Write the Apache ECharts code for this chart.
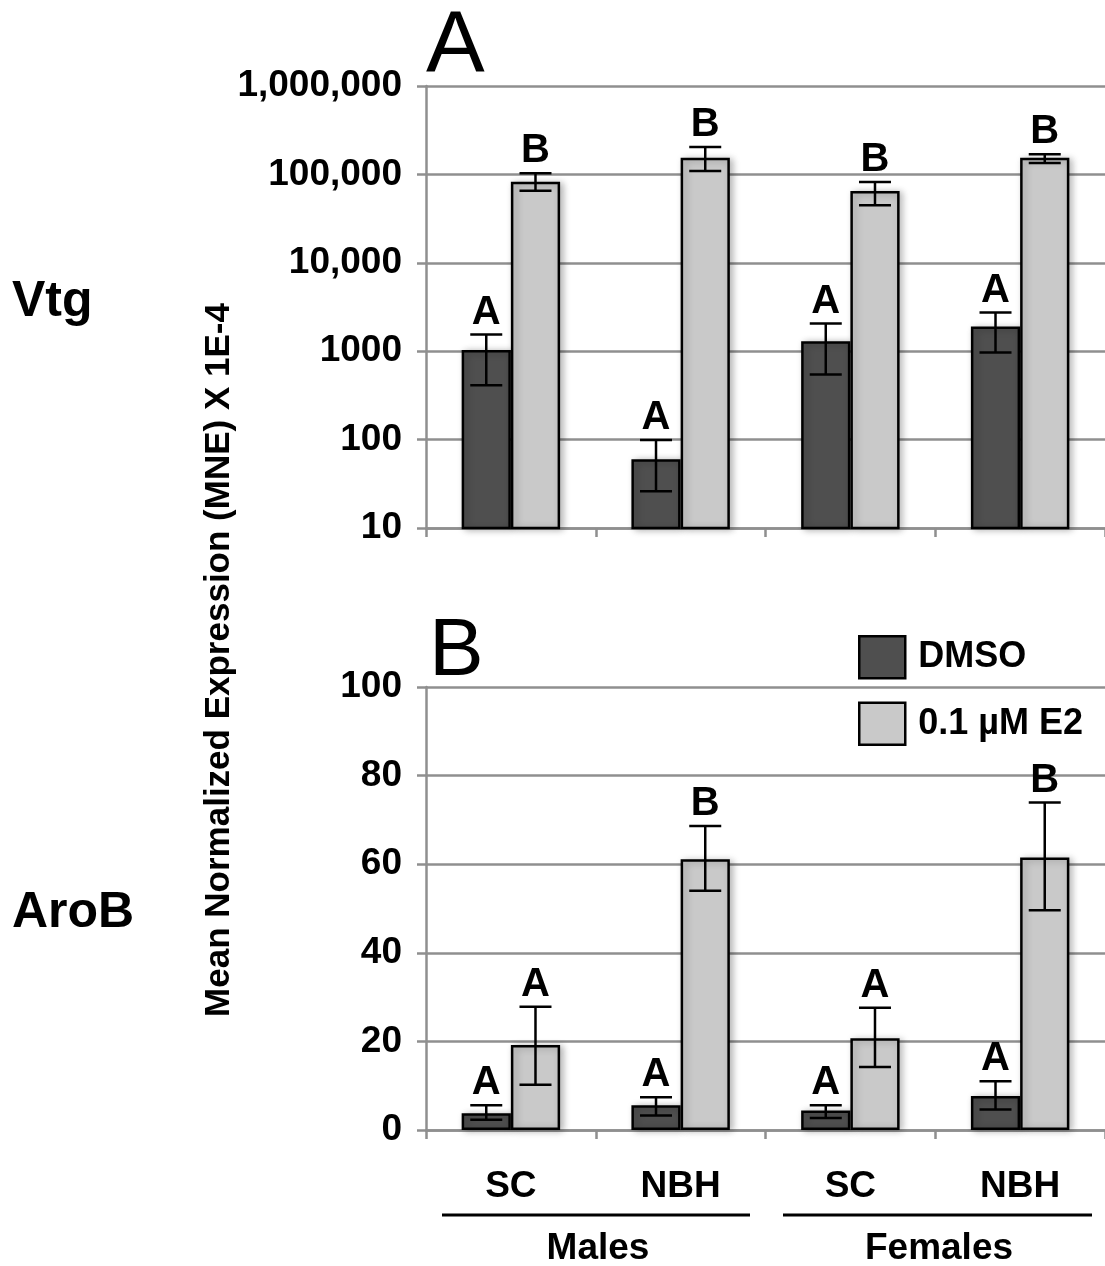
<!DOCTYPE html>
<html>
<head>
<meta charset="utf-8">
<script src="https://cdn.jsdelivr.net/npm/echarts@6/dist/echarts.min.js"></script>
<style>
html,body{margin:0;padding:0;background:#fff;}
#chart{width:1105px;height:1266px;}
</style>
</head>
<body>
<div id="chart"></div>
<script>
// ---------- DATA ----------
const categories = ['SC', 'NBH', 'SC', 'NBH'];
const groups = ['Males', 'Females'];
const seriesNames = ['DMSO', '0.1 µM E2'];

// Panel A: Vtg (log scale)
const vtgDMSO = [1030, 60, 1300, 1900];
const vtgDMSOLow = [412, 26, 545, 967];
const vtgDMSOHigh = [1545, 99, 2056, 2740];
const vtgE2 = [82600, 154500, 64900, 154500];
const vtgE2Low = [65500, 109000, 44700, 134500];
const vtgE2High = [102900, 204000, 82000, 168800];
const vtgDMSOLetters = ['A', 'A', 'A', 'A'];
const vtgE2Letters = ['B', 'B', 'B', 'B'];
const vtgTickValues = [10, 100, 1000, 10000, 100000, 1000000];
const vtgTickLabels = ['10', '100', '1000', '10,000', '100,000', '1,000,000'];

// Panel B: AroB (linear)
const aroDMSO = [3.8, 5.6, 4.4, 7.7];
const aroDMSOLow = [2.3, 3.3, 2.7, 4.6];
const aroDMSOHigh = [5.6, 7.4, 5.6, 11.0];
const aroE2 = [19.2, 61.1, 20.7, 61.5];
const aroE2Low = [10.2, 54.0, 14.2, 49.6];
const aroE2High = [27.8, 68.6, 27.6, 73.9];
const aroDMSOLetters = ['A', 'A', 'A', 'A'];
const aroE2Letters = ['A', 'B', 'A', 'B'];
const aroTickValues = [0, 20, 40, 60, 80, 100];

// ---------- STYLE ----------
const FONT = '"Liberation Sans", Arial, Helvetica, sans-serif';
const DARK = '#4f4f4f';
const LIGHT = '#c9c9c9';
const GRIDC = '#8f8f8f';
const CAT_GAP = 0.42;

const chart = echarts.init(document.getElementById('chart'), null, {renderer: 'canvas'});

function barSeries(name, data, color, xi, yi) {
  return {
    type: 'bar', name: name, data: data, xAxisIndex: xi, yAxisIndex: yi,
    barGap: '0%', barCategoryGap: (CAT_GAP * 100) + '%', clip: true,
    itemStyle: {color: color, borderColor: '#000', borderWidth: 2.5,
      shadowColor: 'rgba(0,0,0,0.28)', shadowBlur: 7, shadowOffsetX: 3, shadowOffsetY: 1},
    emphasis: {disabled: true}, z: 2
  };
}

function errSeries(name, lows, highs, letters, sign, xi, yi) {
  const data = lows.map((lo, i) => [i, lo, highs[i]]);
  return {
    type: 'custom', name: name, xAxisIndex: xi, yAxisIndex: yi, z: 5,
    data: data, encode: {x: 0, y: [1, 2]}, silent: true,
    renderItem: function (params, api) {
      const x = api.value(0), lo = api.value(1), hi = api.value(2);
      const pLo = api.coord([x, lo]);
      const pHi = api.coord([x, hi]);
      const band = api.coord([1, hi])[0] - api.coord([0, hi])[0];
      const bw = band * (1 - CAT_GAP) / 2;
      const cx = pLo[0] + sign * bw / 2;
      const cap = 16;
      const st = {stroke: '#000', lineWidth: 2.5};
      return {
        type: 'group',
        children: [
          {type: 'line', shape: {x1: cx, y1: pLo[1], x2: cx, y2: pHi[1]}, style: st},
          {type: 'line', shape: {x1: cx - cap, y1: pLo[1], x2: cx + cap, y2: pLo[1]}, style: st},
          {type: 'line', shape: {x1: cx - cap, y1: pHi[1], x2: cx + cap, y2: pHi[1]}, style: st},
          {type: 'text', style: {text: letters[params.dataIndex], x: cx, y: pHi[1] - 2,
            align: 'center', verticalAlign: 'bottom', fill: '#000',
            font: 'bold 40px ' + FONT}}
        ]
      };
    }
  };
}

const axisLineStyle = {color: GRIDC, width: 2.5};
const labelStyle = {color: '#000', fontFamily: FONT, fontWeight: 'bold', fontSize: 37};

const option = {
  backgroundColor: '#fff',
  animation: false,
  grid: [
    {left: 426, top: 86, right: 0, height: 442},
    {left: 426, top: 687, right: 0, height: 443}
  ],
  xAxis: [
    {type: 'category', gridIndex: 0, data: categories,
      axisLine: {lineStyle: axisLineStyle}, axisTick: {show: true, length: 9, lineStyle: axisLineStyle},
      axisLabel: {show: false}},
    {type: 'category', gridIndex: 1, data: categories,
      axisLine: {lineStyle: axisLineStyle}, axisTick: {show: true, length: 9, lineStyle: axisLineStyle},
      axisLabel: Object.assign({margin: 38}, labelStyle)}
  ],
  yAxis: [
    {type: 'log', logBase: 10, gridIndex: 0, min: vtgTickValues[0], max: vtgTickValues[vtgTickValues.length - 1],
      axisLine: {show: true, lineStyle: axisLineStyle},
      axisTick: {show: true, length: 9, lineStyle: axisLineStyle},
      splitLine: {show: true, lineStyle: {color: GRIDC, width: 2.5}},
      minorTick: {show: false}, minorSplitLine: {show: false},
      axisLabel: Object.assign({margin: 24, formatter: function (v) {
        let best = 0;
        for (let i = 0; i < vtgTickValues.length; i++) {
          if (Math.abs(Math.log10(vtgTickValues[i]) - Math.log10(v)) < Math.abs(Math.log10(vtgTickValues[best]) - Math.log10(v))) best = i;
        }
        return vtgTickLabels[best];
      }}, labelStyle)},
    {type: 'value', gridIndex: 1, min: aroTickValues[0], max: aroTickValues[aroTickValues.length - 1], interval: 20,
      axisLine: {show: true, lineStyle: axisLineStyle},
      axisTick: {show: true, length: 9, lineStyle: axisLineStyle},
      splitLine: {show: true, lineStyle: {color: GRIDC, width: 2.5}},
      axisLabel: Object.assign({margin: 24}, labelStyle)}
  ],
  legend: {
    data: seriesNames, orient: 'vertical', left: 853, top: 630,
    itemWidth: 46, itemHeight: 42, itemGap: 22, icon: 'rect',
    itemStyle: {borderColor: '#000', borderWidth: 2.5, shadowBlur: 0, shadowOffsetX: 0, shadowOffsetY: 0},
    textStyle: {color: '#000', fontFamily: FONT, fontWeight: 'bold', fontSize: 36, padding: [0, 0, 0, 8]},
    selectedMode: false
  },
  series: [
    barSeries(seriesNames[0], vtgDMSO, DARK, 0, 0),
    barSeries(seriesNames[1], vtgE2, LIGHT, 0, 0),
    errSeries('errA1', vtgDMSOLow, vtgDMSOHigh, vtgDMSOLetters, -1, 0, 0),
    errSeries('errA2', vtgE2Low, vtgE2High, vtgE2Letters, 1, 0, 0),
    barSeries(seriesNames[0], aroDMSO, DARK, 1, 1),
    barSeries(seriesNames[1], aroE2, LIGHT, 1, 1),
    errSeries('errB1', aroDMSOLow, aroDMSOHigh, aroDMSOLetters, -1, 1, 1),
    errSeries('errB2', aroE2Low, aroE2High, aroE2Letters, 1, 1, 1)
  ],
  graphic: [
    {type: 'text', left: 426, top: 4, style: {text: 'A', font: '88px ' + FONT, fill: '#000'}},
    {type: 'text', left: 429, top: 611, style: {text: 'B', font: '82px ' + FONT, fill: '#000'}},
    {type: 'text', x: 12, y: 302, style: {text: 'Vtg', font: 'bold 50px ' + FONT, fill: '#000', verticalAlign: 'middle'}},
    {type: 'text', x: 12, y: 913, style: {text: 'AroB', font: 'bold 50px ' + FONT, fill: '#000', verticalAlign: 'middle'}},
    {type: 'text', x: 219, y: 660, rotation: Math.PI / 2,
      style: {text: 'Mean Normalized Expression (MNE) X 1E-4', font: 'bold 35px ' + FONT, fill: '#000', align: 'center', verticalAlign: 'middle'}},
    {type: 'line', shape: {x1: 442, y1: 1215, x2: 750, y2: 1215}, style: {stroke: '#000', lineWidth: 3}},
    {type: 'line', shape: {x1: 783, y1: 1215, x2: 1092, y2: 1215}, style: {stroke: '#000', lineWidth: 3}},
    {type: 'text', x: 598, y: 1249, style: {text: groups[0], font: 'bold 37px ' + FONT, fill: '#000', align: 'center', verticalAlign: 'middle'}},
    {type: 'text', x: 939, y: 1249, style: {text: groups[1], font: 'bold 37px ' + FONT, fill: '#000', align: 'center', verticalAlign: 'middle'}}
  ]
};
chart.setOption(option);
</script>
</body>
</html>
